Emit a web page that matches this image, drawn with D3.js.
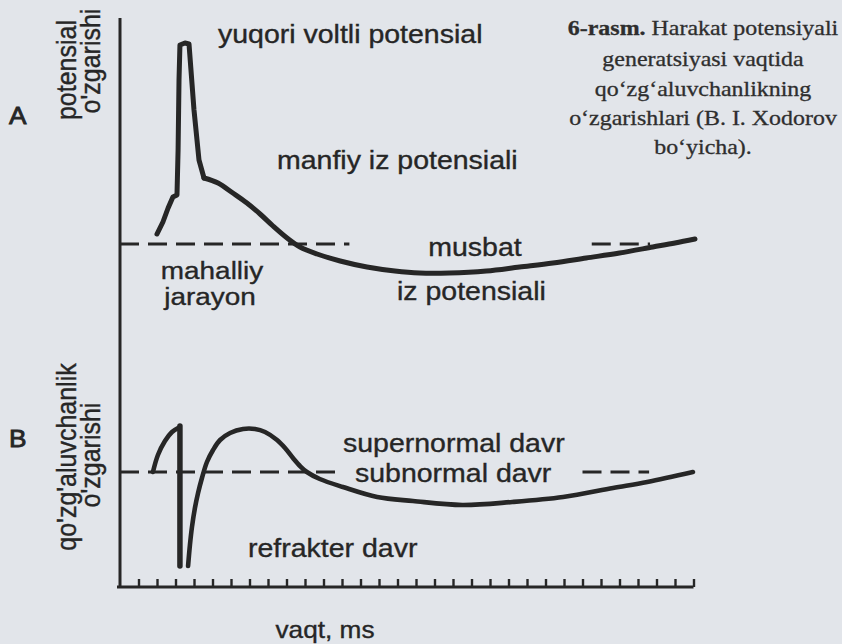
<!DOCTYPE html>
<html>
<head>
<meta charset="utf-8">
<script src="https://cdn.jsdelivr.net/npm/d3@7/dist/d3.min.js"></script>
<style>
  html, body { margin: 0; padding: 0; background: #e2e5ea; }
  svg { display: block; }
</style>
</head>
<body>
<svg id="chart" width="842" height="644"></svg>
<script>
// Time axis: ticks every 1 ms
const timeTicks = d3.range(1, 32);

// Panel A – membrane potential (relative units, 0 = resting level)
// local response + spike: [time ms, potential]
const spikeA = [
  [2.0, 5], [2.32, 11], [2.6, 18], [2.86, 23.5],
  [3.08, 24.5], [3.14, 47], [3.19, 82], [3.24, 99.5],
  [3.51, 100.5], [3.73, 100], [4.0, 67], [4.27, 42], [4.54, 33]
];
// negative and positive after-potentials
const traceA = [
  [4.54, 33], [5.3, 30.5], [6.1, 25.5], [6.86, 20.5], [7.57, 15],
  [8.27, 9], [9.03, 3], [9.73, -1.5], [10.65, -5], [11.9, -8.5],
  [13.35, -11.5], [14.86, -13.5], [16.2, -14.5], [17.8, -14.5],
  [19.8, -13.5], [21.6, -11.5], [23.4, -9.5], [25.2, -7], [27.0, -4.5],
  [28.8, -1.5], [30.0, 0.5], [31.08, 2.5]
];
// resting level dashes (time ranges)
const baseA = [[0, 12.4], [25.5, 28.65]];

// Panel B – excitability (relative units, 0 = normal level)
const localB = [[1.78, 0], [2.05, 8.5], [2.43, 15.5], [2.81, 20], [3.14, 22]];
const barB = [[3.24, 23], [3.24, -47]];
const recoveryB = [
  [3.68, -47], [3.78, -36.5], [3.89, -27.5], [4.05, -18], [4.22, -10.5],
  [4.43, -3], [4.7, 5], [5.03, 11], [5.41, 16], [5.95, 19.5], [6.65, 21.5],
  [7.3, 21.5], [7.84, 20], [8.49, 16], [8.92, 12], [9.35, 7], [9.73, 3],
  [10.1, 0], [10.8, -3.5], [12.05, -7.5], [13.9, -12.5], [15.84, -14.5],
  [18.5, -16.5], [21.2, -15], [23.95, -12.5], [26.65, -8], [28.5, -5],
  [30.97, 0]
];
const baseB = [[0, 11.9], [25.0, 28.6]];

// Text
const labelsA = ["yuqori voltli potensial", "manfiy iz potensiali", "musbat", "iz potensiali", "mahalliy", "jarayon"];
const labelsB = ["supernormal davr", "subnormal davr", "refrakter davr"];
const axisTitles = ["potensial", "o'zgarishi", "qo'zg'aluvchanlik", "o'zgarishi", "vaqt, ms"];
const captionLines = ["Harakat potensiyali", "generatsiyasi vaqtida", "qo‘zg‘aluvchanlikning", "o‘zgarishlari (B. I. Xodorov", "bo‘yicha)."];
const captionLead = "6-rasm.";

const INK = "#262626";
const SANS = "'Liberation Sans', Arial, Helvetica, sans-serif";
const SERIF = "'Liberation Serif', 'Times New Roman', serif";
const SX = 1.14; // horizontal stretch of the lettering

const svg = d3.select("#chart");

const x = d3.scaleLinear().domain([0, 31]).range([120, 693.5]);
const yA = d3.scaleLinear().domain([0, 100]).range([244, 44]);
const yB = d3.scaleLinear().domain([0, 20]).range([472, 432]);

// Axes
svg.append("line")
  .attr("x1", x(0)).attr("x2", x(0)).attr("y1", 18).attr("y2", 588)
  .attr("stroke", INK).attr("stroke-width", 3);

const xAxis = d3.axisTop(x).tickValues(timeTicks).tickSize(8).tickFormat("");
const gx = svg.append("g").attr("transform", "translate(0,587)").call(xAxis);
gx.select(".domain").remove();
gx.selectAll(".tick line").attr("stroke", INK).attr("stroke-width", 2.4);
svg.append("line")
  .attr("x1", 117).attr("x2", x(31)).attr("y1", 587).attr("y2", 587)
  .attr("stroke", INK).attr("stroke-width", 3);

// Dashed reference levels
function dashes(ranges, yPix) {
  svg.append("g").selectAll("line").data(ranges).join("line")
    .attr("x1", d => x(d[0])).attr("x2", d => x(d[1]))
    .attr("y1", yPix).attr("y2", yPix)
    .attr("stroke", INK).attr("stroke-width", 2.8)
    .attr("stroke-dasharray", "19,9");
}
dashes(baseA, yA(0));
dashes(baseB, yB(0));

// Curves
function curve(data, ys, curveType, width) {
  svg.append("path")
    .attr("d", d3.line().x(d => x(d[0])).y(d => ys(d[1])).curve(curveType)(data))
    .attr("fill", "none").attr("stroke", INK)
    .attr("stroke-width", width)
    .attr("stroke-linejoin", "round").attr("stroke-linecap", "round");
}
curve(spikeA, yA, d3.curveLinear, 5);
curve(traceA, yA, d3.curveCatmullRom.alpha(0.5), 5);
curve(localB, yB, d3.curveCatmullRom.alpha(0.5), 4.6);
curve(barB, yB, d3.curveLinear, 5.5);
curve(recoveryB, yB, d3.curveCatmullRom.alpha(0.5), 4.6);

// Lettering helper (stretched horizontally)
function label(txt, px, py, opts = {}) {
  const g = svg.append("g").attr("transform", `translate(${px},${py})${opts.rotate ? " rotate(-90)" : ""}`);
  g.append("text")
    .attr("transform", opts.rotate ? `scale(1,${SX})` : `scale(${SX},1)`)
    .attr("text-anchor", opts.anchor || "start")
    .attr("font-family", opts.family || SANS)
    .attr("font-size", opts.size || 25)
    .attr("font-weight", opts.weight || "normal")
    .attr("fill", opts.fill || INK)
    .attr("stroke", opts.fill || INK)
    .attr("stroke-width", opts.stroke == null ? 0.35 : opts.stroke)
    .text(txt);
  return g;
}

// Panel A labels
label(labelsA[0], 218, 43);
label(labelsA[1], 277, 169);
label(labelsA[2], 475, 256, { anchor: "middle" });
label(labelsA[3], 397, 300);
label(labelsA[4], 212, 279, { anchor: "middle", size: 24.5 });
label(labelsA[5], 210, 305, { anchor: "middle", size: 24.5 });

// Panel B labels
label(labelsB[0], 343, 452);
label(labelsB[1], 355, 482);
label(labelsB[2], 248, 557);

// Panel letters and axis titles
label("A", 9, 124, { size: 23, stroke: 0.8 });
label("B", 9, 447, { size: 23, stroke: 0.8 });
label(axisTitles[0], 76, 70, { rotate: true, anchor: "middle" });
label(axisTitles[1], 100, 61, { rotate: true, anchor: "middle" });
label(axisTitles[2], 76, 457, { rotate: true, anchor: "middle" });
label(axisTitles[3], 100, 455, { rotate: true, anchor: "middle" });
label(axisTitles[4], 325, 638, { anchor: "middle", size: 23 });

// Figure caption
const capX = 703;
const capY = [35, 66, 96, 125, 154];
const first = svg.append("g").attr("transform", `translate(${capX},${capY[0]})`)
  .append("text")
  .attr("transform", `scale(${SX},1)`)
  .attr("text-anchor", "middle")
  .attr("font-family", SERIF).attr("font-size", 21)
  .attr("fill", "#2e2e2e").attr("stroke", "#2e2e2e").attr("stroke-width", 0.3);
first.append("tspan").attr("font-weight", "bold").text(captionLead + " ");
first.append("tspan").text(captionLines[0]);
captionLines.slice(1).forEach((t, i) => {
  label(t, capX, capY[i + 1], { anchor: "middle", family: SERIF, size: 21, fill: "#2e2e2e", stroke: 0.3 });
});
</script>
</body>
</html>
